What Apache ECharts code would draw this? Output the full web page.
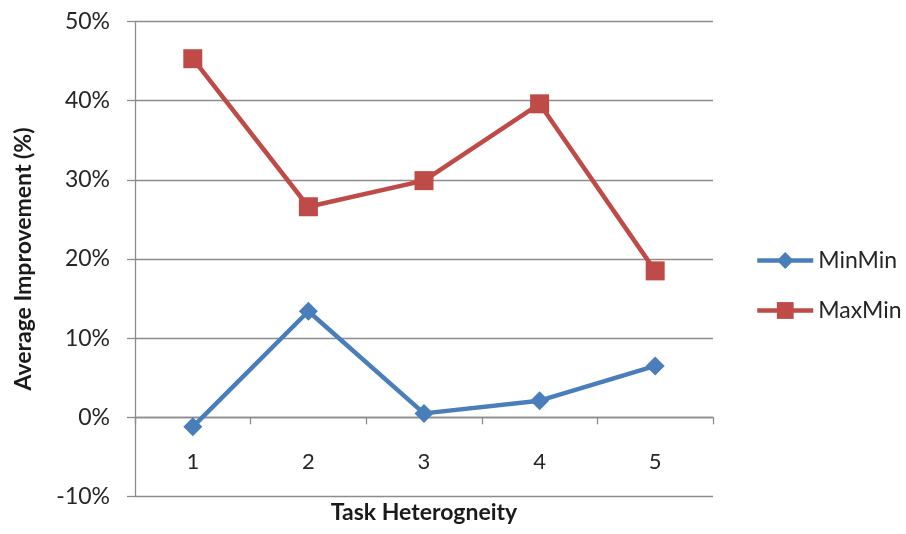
<!DOCTYPE html>
<html>
<head>
<meta charset="utf-8">
<script src="https://cdn.jsdelivr.net/npm/echarts@6/dist/echarts.min.js"></script>
<style>
  html, body { margin: 0; padding: 0; background: #fff; }
  #chart { width: 906px; height: 534px; }
</style>
</head>
<body>
<div id="chart"></div>
<script>
// Task heterogeneity levels on the x axis
const categories = ['1', '2', '3', '4', '5'];
// Average improvement (%) per heuristic
const minMin = [-1.2, 13.4, 0.5, 2.1, 6.5];
const maxMin = [45.3, 26.6, 29.9, 39.6, 18.5];
// Value axis range (percent)
const yMin = -10, yMax = 50, yStep = 10;

const FONT = 'Lato, "Open Sans", sans-serif';
const GRID_GRAY = '#8c8c8c';
const TEXT = '#262626';

const W = 906, H = 534;
const grid = { left: 135, right: 193, top: 21.5, bottom: 37.5 };
// The category axis sits on the zero line: lift it from the grid bottom by the height of the negative range
const plotH = H - grid.top - grid.bottom;
const zeroLift = plotH * (0 - yMin) / (yMax - yMin);

const chart = echarts.init(document.getElementById('chart'), null, { renderer: 'canvas' });

chart.setOption({
  animation: false,
  backgroundColor: '#ffffff',
  textStyle: { fontFamily: FONT },
  grid: Object.assign({ containLabel: false, outerBoundsMode: 'none' }, grid),
  legend: {
    orient: 'vertical',
    left: 750,
    top: 244,
    itemWidth: 56,
    itemHeight: 21,
    itemGap: 27,
    lineStyle: { width: 4.5 },
    textStyle: { fontFamily: FONT, fontSize: 23, color: TEXT, padding: [0, 0, 0, 0] },
    data: ['MinMin', 'MaxMin']
  },
  xAxis: {
    type: 'category',
    data: categories,
    boundaryGap: true,
    position: 'bottom',
    offset: -zeroLift,
    name: 'Task Heterogneity',
    nameLocation: 'middle',
    nameGap: 84,
    nameTextStyle: { fontFamily: FONT, fontSize: 23, fontWeight: 'bold', color: '#1a1a1a' },
    axisLine: { onZero: false, lineStyle: { color: GRID_GRAY, width: 1.3 } },
    axisTick: { show: true, length: 7, lineStyle: { color: GRID_GRAY, width: 1.3 } },
    axisLabel: { margin: 34, fontFamily: FONT, fontSize: 22, color: TEXT },
    splitLine: { show: false }
  },
  yAxis: {
    type: 'value',
    min: yMin,
    max: yMax,
    interval: yStep,
    name: 'Average Improvement (%)',
    nameLocation: 'middle',
    nameGap: 100,
    nameTextStyle: { fontFamily: FONT, fontSize: 23, fontWeight: 'bold', color: '#1a1a1a' },
    axisLine: { show: true, lineStyle: { color: GRID_GRAY, width: 1.3 } },
    axisTick: { show: true, length: 8, lineStyle: { color: GRID_GRAY, width: 1.3 } },
    axisLabel: { margin: 25, formatter: '{value}%', fontFamily: FONT, fontSize: 23, color: TEXT },
    splitLine: { show: true, lineStyle: { color: GRID_GRAY, width: 1.3 } }
  },
  series: [
    {
      name: 'MinMin',
      type: 'line',
      data: minMin,
      symbol: 'diamond',
      symbolSize: 19,
      lineStyle: { color: '#4a7ebb', width: 4.5 },
      itemStyle: { color: '#4a7ebb' },
      z: 3
    },
    {
      name: 'MaxMin',
      type: 'line',
      data: maxMin,
      symbol: 'rect',
      symbolSize: 19,
      lineStyle: { color: '#be4b48', width: 4.5 },
      itemStyle: { color: '#be4b48' },
      z: 3
    }
  ]
});
</script>
</body>
</html>
